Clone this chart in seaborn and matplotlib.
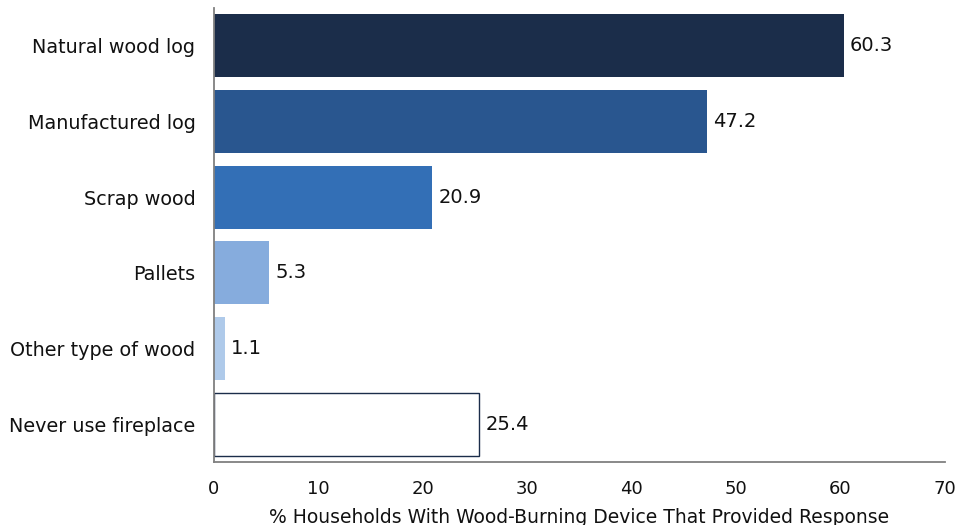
import matplotlib
matplotlib.use("Agg")
import matplotlib.pyplot as plt
import seaborn as sns
import pandas as pd

categories = ["Natural wood log", "Manufactured log", "Scrap wood", "Pallets",
              "Other type of wood", "Never use fireplace"]
values = [60.3, 47.2, 20.9, 5.3, 1.1, 25.4]
value_labels = ["60.3", "47.2", "20.9", "5.3", "1.1", "25.4"]
colors = ["#1B2D4A", "#29568F", "#336FB6", "#86ACDD", "#AFCAEA", "#FFFFFF"]
xticks = [0, 10, 20, 30, 40, 50, 60, 70]
xlabel = "% Households With Wood-Burning Device That Provided Response"

df = pd.DataFrame({"cat": categories, "val": values})

sns.set_style("white")
plt.rcParams['font.family'] = ['DejaVu Sans']

fig = plt.figure(figsize=(9.58, 5.25), dpi=100)
ax = fig.add_axes([0.2229, 0.12, 0.9864 - 0.2229, 0.9848 - 0.12])

sns.barplot(data=df, x="val", y="cat", hue="cat", palette=colors, legend=False,
            width=0.83, ax=ax, saturation=1)

for i, p in enumerate(ax.patches):
    if i == 5:
        p.set_edgecolor("#1B2D4A")
        p.set_linewidth(1.0)
    else:
        p.set_edgecolor("none")

for i, (v, t) in enumerate(zip(values, value_labels)):
    ax.annotate(t, (v, i), xytext=(4.5, 0), textcoords="offset points",
                va="center", ha="left", fontsize=14, color="#111111")

ax.set_xlim(0, 70)
ax.set_ylim(5.5, -0.5)
ax.set_xticks(xticks)
ax.set_xticklabels([str(x) for x in xticks], fontsize=13, color="#111111")
ax.tick_params(axis="x", length=0, pad=13)
ax.tick_params(axis="y", length=0, pad=13, labelsize=13.8, labelcolor="#111111")
ax.set_xlabel(xlabel, fontsize=13.5, color="#111111", labelpad=7)
ax.set_ylabel("")

for s in ["top", "right"]:
    ax.spines[s].set_visible(False)
for s in ["left", "bottom"]:
    ax.spines[s].set_color("#808080")
    ax.spines[s].set_linewidth(1.3)

fig.savefig("out.png", dpi=100)
